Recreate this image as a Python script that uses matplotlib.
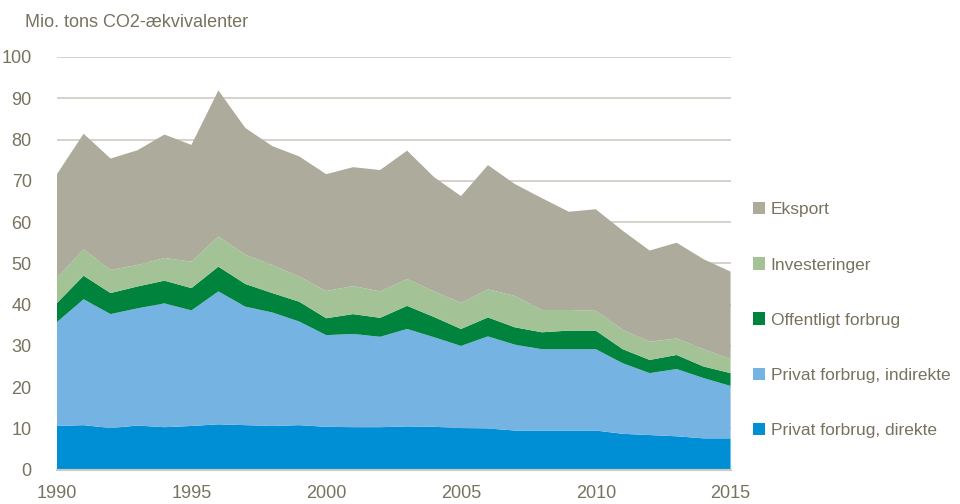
import numpy as np
import matplotlib.pyplot as plt
from matplotlib.patches import Patch

plt.rcParams['font.family'] = ['Liberation Sans Narrow', 'Liberation Sans', 'DejaVu Sans']

years = list(range(1990, 2016))

# Mio. tons CO2-aekvivalenter
privat_direkte = [10.6, 10.8, 10.1, 10.7, 10.3, 10.6, 11.0, 10.8, 10.6, 10.8, 10.4, 10.3, 10.3,
                  10.5, 10.4, 10.1, 10.0, 9.5, 9.5, 9.5, 9.5, 8.7, 8.4, 8.1, 7.6, 7.6]
privat_indirekte = [25.1, 30.5, 27.6, 28.4, 30.0, 28.0, 32.2, 28.7, 27.5, 25.1, 22.2, 22.6, 21.9,
                    23.6, 21.7, 19.9, 22.3, 20.8, 19.7, 19.7, 19.7, 17.1, 15.0, 16.3, 14.6, 12.7]
offentligt = [4.6, 5.7, 5.1, 5.3, 5.5, 5.4, 6.0, 5.5, 4.7, 4.8, 4.1, 4.8, 4.6,
              5.6, 4.9, 4.1, 4.6, 4.2, 4.1, 4.5, 4.5, 3.4, 3.2, 3.4, 2.8, 3.1]
investeringer = [6.1, 6.4, 5.6, 5.2, 5.5, 6.4, 7.3, 7.1, 6.8, 6.1, 6.6, 6.8, 6.4,
                 6.5, 6.2, 6.3, 6.8, 7.6, 5.4, 5.0, 4.8, 4.7, 4.4, 4.0, 4.2, 3.4]
eksport = [25.1, 28.0, 27.0, 27.8, 29.9, 28.3, 35.4, 30.7, 28.8, 29.1, 28.3, 28.8, 29.4,
           31.1, 27.7, 25.9, 30.1, 27.1, 27.1, 23.8, 24.6, 24.0, 22.1, 23.2, 21.8, 21.2]

labels = ['Privat forbrug, direkte', 'Privat forbrug, indirekte', 'Offentligt forbrug',
          'Investeringer', 'Eksport']
colors = ['#008FD5', '#74B3E2', '#00843D', '#A3C295', '#ADAB9C']
text_color = '#77735F'

fig = plt.figure(figsize=(9.6, 5.04), dpi=100)
ax = fig.add_axes([0.059, 0.068, 0.702, 0.819])

ax.stackplot(years, privat_direkte, privat_indirekte, offentligt, investeringer, eksport,
             colors=colors, linewidth=0)

ax.set_xlim(1990, 2015)
ax.set_ylim(0, 100)
ax.set_yticks(range(0, 101, 10))
ax.set_xticks(range(1990, 2016, 5))
ax.yaxis.grid(True, color='#CFCBC2', linewidth=1.2)
ax.set_axisbelow(True)
for s in ['top', 'right', 'left']:
    ax.spines[s].set_visible(False)
ax.spines['bottom'].set_color('#CFCBC2')
ax.spines['bottom'].set_linewidth(1.5)
ax.tick_params(axis='both', length=0, labelsize=13, colors=text_color)
ax.tick_params(axis='y', pad=18)
ax.tick_params(axis='x', pad=11)

fig.text(0.026, 0.955, 'Mio. tons CO2-ækvivalenter', fontsize=13, color=text_color,
         ha='left', va='center')

handles = [Patch(facecolor=c, edgecolor='none') for c in colors][::-1]
fig.legend(handles, labels[::-1], loc='center left', bbox_to_anchor=(0.784, 0.365),
           frameon=False, fontsize=12.5, labelcolor=text_color, labelspacing=2.3,
           handlelength=0.7, handleheight=0.7, handletextpad=0.35, borderaxespad=0,
           borderpad=0)

fig.savefig('out.png', dpi=100)
